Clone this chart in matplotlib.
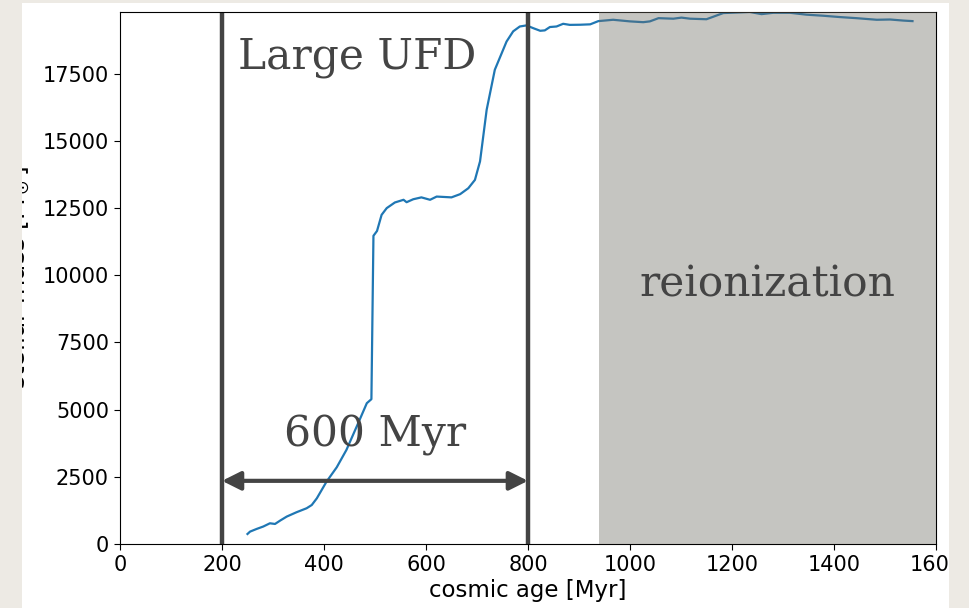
import matplotlib
matplotlib.use("Agg")
import matplotlib.pyplot as plt
from matplotlib.patches import Rectangle

# stellar mass growth of the halo vs cosmic age
age_myr = [250, 255, 268, 281, 294, 304, 314, 327, 346, 366, 376, 386, 405, 425,
           444, 467, 484, 493, 497, 504, 513, 523, 539, 556, 562, 575, 591, 608,
           621, 650, 667, 683, 696, 706, 719, 735, 758, 771, 784, 797, 810, 824,
           833, 843, 856, 869, 882, 902, 922, 938, 967, 1000, 1026, 1039, 1056,
           1085, 1101, 1118, 1150, 1183, 1235, 1258, 1281, 1314, 1346, 1379,
           1412, 1444, 1484, 1510, 1536, 1554]
stellar_mass = [372, 460, 560, 650, 770, 745, 870, 1020, 1180, 1330, 1450, 1700,
                2320, 2854, 3500, 4494, 5240, 5390, 11470, 11650, 12250, 12500,
                12710, 12810, 12720, 12830, 12900, 12810, 12930, 12900, 13020,
                13240, 13550, 14240, 16160, 17650, 18700, 19080, 19260, 19300,
                19200, 19100, 19115, 19240, 19260, 19360, 19320, 19325, 19340,
                19460, 19510, 19450, 19420, 19450, 19570, 19550, 19590, 19550,
                19530, 19760, 19800, 19720, 19770, 19770, 19700, 19660, 19610,
                19570, 19510, 19520, 19480, 19460]

window_start, window_end = 200, 800
reionization_start = 939
x_max = 1600
y_max = 19800

DARK = "#444444"
PAPER = "#edeae4"

fig = plt.figure(figsize=(9.7, 6.08), dpi=100, facecolor="white")
ax = fig.add_axes([0.1237, 0.1053, 0.8412, 0.875])

ax.plot(age_myr, stellar_mass, color="#1f77b4", lw=1.6, zorder=2)

ax.axvline(window_start, color=DARK, lw=3.2, zorder=2.2)
ax.axvline(window_end, color=DARK, lw=3.2, zorder=2.2)
ax.annotate("", xy=(window_start, 2350), xytext=(window_end, 2350),
            arrowprops=dict(arrowstyle="<|-|>", color=DARK, lw=3,
                            mutation_scale=28, shrinkA=0, shrinkB=0))

ax.axvspan(reionization_start, x_max, color=(112 / 255, 110 / 255, 100 / 255),
           alpha=0.4, lw=0, zorder=3)

serif = dict(family="DejaVu Serif", fontsize=30.5, color=DARK, zorder=4)
ax.text(465, 17700, "Large UFD", ha="center", va="baseline", **serif)
ax.text(500, 3620, "600 Myr", ha="center", va="baseline", **serif)
ax.text(1270, 9200, "reionization", ha="center", va="baseline", **serif)

ax.set_xlim(0, x_max)
ax.set_ylim(0, y_max)
ax.set_xticks(range(0, 1601, 200))
ax.set_yticks(range(0, 17501, 2500))
ax.tick_params(labelsize=15, length=4.5)
ax.set_xlabel("cosmic age [Myr]", fontsize=16.5, labelpad=3)
ax.set_ylabel(r"stellar mass [M$_\odot$]", fontsize=18, labelpad=7.5)

# paper border around the white panel
W, H = 970, 608
for x0, y0, w, h in [(0, 0, 22, H), (949, 0, W - 949, H), (0, H - 3, W, 3)]:
    fig.add_artist(Rectangle((x0 / W, y0 / H), w / W, h / H,
                             transform=fig.transFigure, color=PAPER, lw=0,
                             zorder=10))

fig.savefig("out.png", dpi=100, facecolor=fig.get_facecolor())
